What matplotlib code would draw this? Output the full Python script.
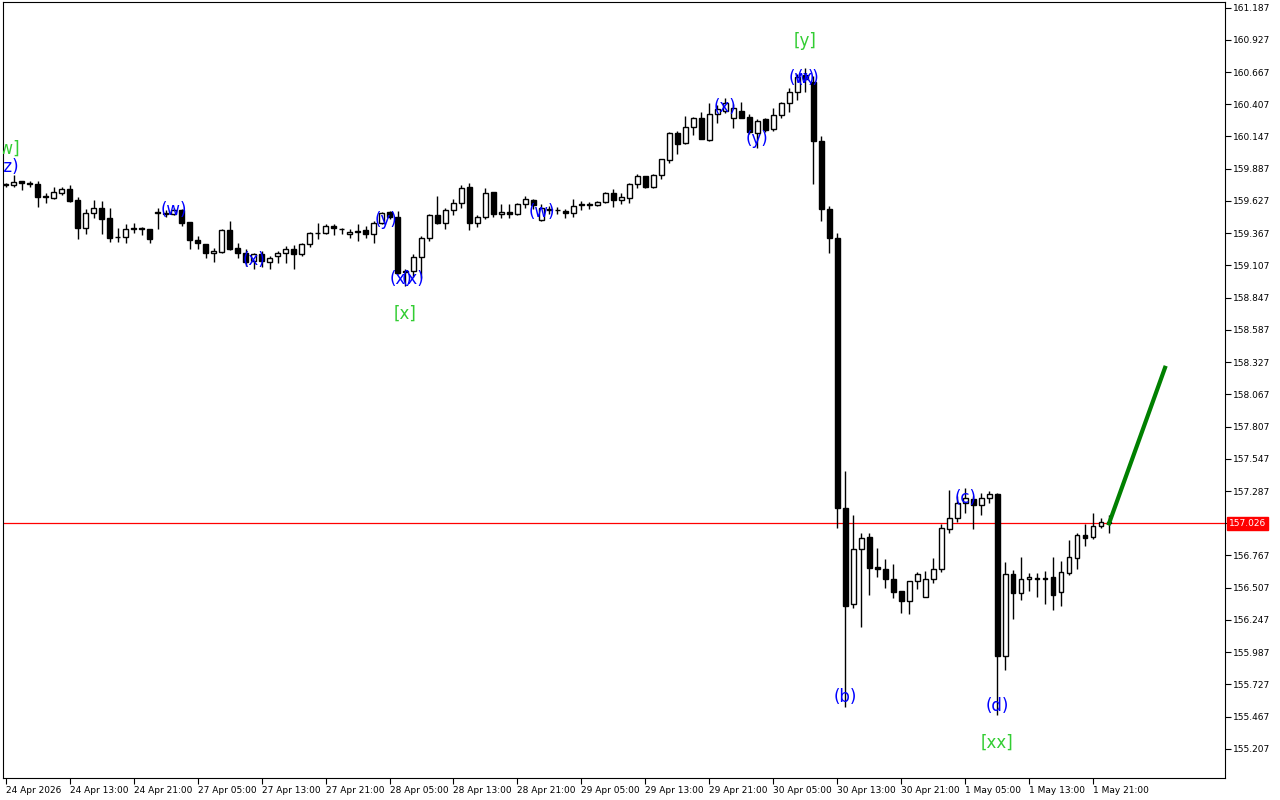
import matplotlib
matplotlib.use("Agg")
import matplotlib.pyplot as plt

# Hourly OHLC (bar 0 = 24 Apr 2026 05:00)
opens = [159.754, 159.754, 159.786, 159.770, 159.762, 159.665, 159.649, 159.689, 159.722, 159.633,
         159.408, 159.528, 159.569, 159.488, 159.335, 159.335, 159.408, 159.408, 159.400, 159.536,
         159.520, 159.520, 159.553, 159.456, 159.311, 159.279, 159.207, 159.215, 159.392, 159.247,
         159.207, 159.142, 159.198, 159.134, 159.182, 159.207, 159.239, 159.198, 159.279, 159.368,
         159.368, 159.424, 159.400, 159.359, 159.384, 159.392, 159.359, 159.448, 159.536, 159.496,
         159.062, 159.062, 159.174, 159.327, 159.512, 159.448, 159.553, 159.609, 159.738, 159.448,
         159.496, 159.698, 159.520, 159.536, 159.520, 159.601, 159.633, 159.472, 159.561, 159.553,
         159.545, 159.528, 159.593, 159.593, 159.593, 159.617, 159.689, 159.633, 159.649, 159.762,
         159.826, 159.738, 159.834, 159.955, 160.172, 160.092, 160.221, 160.293, 160.116, 160.325,
         160.350, 160.293, 160.350, 160.301, 160.172, 160.285, 160.205, 160.317, 160.414, 160.502,
         160.639, 160.583, 160.108, 159.561, 159.327, 157.154, 156.373, 156.816, 156.920, 156.671,
         156.655, 156.574, 156.477, 156.397, 156.558, 156.429, 156.574, 156.655, 156.977, 157.073,
         157.194, 157.226, 157.178, 157.234, 157.266, 155.954, 156.614, 156.461, 156.574, 156.582,
         156.582, 156.590, 156.469, 156.622, 156.743, 156.936, 156.920, 157.001, 157.041]
highs = [159.770, 159.834, 159.786, 159.786, 159.786, 159.689, 159.738, 159.738, 159.754, 159.657,
         159.561, 159.633, 159.625, 159.569, 159.408, 159.440, 159.448, 159.416, 159.400, 159.569,
         159.553, 159.569, 159.561, 159.456, 159.343, 159.279, 159.247, 159.400, 159.464, 159.287,
         159.239, 159.207, 159.223, 159.182, 159.223, 159.263, 159.271, 159.287, 159.376, 159.448,
         159.440, 159.440, 159.408, 159.400, 159.440, 159.424, 159.464, 159.536, 159.545, 159.545,
         159.078, 159.198, 159.343, 159.520, 159.665, 159.569, 159.641, 159.754, 159.770, 159.512,
         159.730, 159.698, 159.601, 159.601, 159.609, 159.665, 159.641, 159.601, 159.585, 159.577,
         159.561, 159.641, 159.625, 159.617, 159.625, 159.698, 159.722, 159.689, 159.770, 159.842,
         159.826, 159.842, 159.963, 160.180, 160.189, 160.309, 160.301, 160.341, 160.414, 160.398,
         160.454, 160.406, 160.422, 160.325, 160.285, 160.293, 160.374, 160.422, 160.535, 160.655,
         160.696, 160.631, 160.148, 159.585, 159.368, 157.452, 157.097, 156.952, 156.952, 156.824,
         156.735, 156.695, 156.477, 156.558, 156.630, 156.638, 156.743, 157.017, 157.299, 157.250,
         157.315, 157.250, 157.274, 157.290, 157.274, 156.711, 156.646, 156.751, 156.622, 156.622,
         156.638, 156.751, 156.719, 156.888, 156.952, 157.017, 157.113, 157.073, 157.097]
lows = [159.738, 159.738, 159.714, 159.738, 159.577, 159.609, 159.641, 159.673, 159.617, 159.319,
        159.359, 159.488, 159.359, 159.295, 159.295, 159.287, 159.368, 159.351, 159.287, 159.400,
        159.496, 159.512, 159.424, 159.239, 159.239, 159.166, 159.134, 159.207, 159.231, 159.166,
        159.102, 159.078, 159.094, 159.078, 159.126, 159.126, 159.078, 159.182, 159.255, 159.319,
        159.359, 159.351, 159.359, 159.327, 159.303, 159.327, 159.287, 159.440, 159.480, 159.037,
        158.941, 159.013, 159.005, 159.303, 159.440, 159.400, 159.512, 159.569, 159.392, 159.416,
        159.480, 159.496, 159.488, 159.488, 159.512, 159.569, 159.561, 159.464, 159.520, 159.520,
        159.488, 159.496, 159.553, 159.561, 159.585, 159.609, 159.577, 159.601, 159.609, 159.730,
        159.730, 159.730, 159.802, 159.931, 160.003, 160.084, 160.156, 160.124, 160.108, 160.253,
        160.333, 160.213, 160.293, 160.164, 160.052, 160.180, 160.189, 160.293, 160.341, 160.438,
        160.502, 159.762, 159.464, 159.207, 156.985, 155.544, 156.341, 156.188, 156.445, 156.590,
        156.501, 156.421, 156.300, 156.292, 156.493, 156.429, 156.542, 156.630, 156.952, 157.041,
        157.113, 156.977, 157.097, 157.194, 155.479, 155.842, 156.252, 156.405, 156.477, 156.429,
        156.373, 156.324, 156.357, 156.606, 156.655, 156.840, 156.896, 156.985, 156.952]
closes = [159.762, 159.778, 159.770, 159.762, 159.657, 159.657, 159.698, 159.722, 159.625, 159.408,
          159.528, 159.569, 159.480, 159.327, 159.335, 159.400, 159.400, 159.400, 159.319, 159.528,
          159.528, 159.553, 159.448, 159.311, 159.287, 159.207, 159.223, 159.392, 159.239, 159.207,
          159.134, 159.198, 159.142, 159.166, 159.207, 159.239, 159.198, 159.279, 159.368, 159.368,
          159.424, 159.408, 159.400, 159.376, 159.376, 159.359, 159.448, 159.528, 159.496, 159.045,
          159.053, 159.174, 159.327, 159.512, 159.448, 159.553, 159.609, 159.730, 159.448, 159.496,
          159.689, 159.520, 159.536, 159.520, 159.601, 159.641, 159.593, 159.569, 159.553, 159.553,
          159.528, 159.585, 159.601, 159.601, 159.617, 159.689, 159.633, 159.657, 159.762, 159.826,
          159.738, 159.834, 159.963, 160.172, 160.084, 160.221, 160.293, 160.124, 160.325, 160.366,
          160.414, 160.374, 160.293, 160.180, 160.269, 160.197, 160.317, 160.414, 160.502, 160.623,
          160.607, 160.108, 159.561, 159.327, 157.146, 156.357, 156.816, 156.912, 156.663, 156.655,
          156.574, 156.469, 156.397, 156.558, 156.614, 156.574, 156.655, 156.985, 157.073, 157.194,
          157.234, 157.178, 157.234, 157.266, 155.954, 156.614, 156.461, 156.574, 156.590, 156.574,
          156.574, 156.445, 156.630, 156.751, 156.936, 156.912, 157.001, 157.041, 157.026]

current_price = 157.026
forecast_bars = [138, 145]
forecast_prices = [157.026, 158.281]

time_labels = ["24 Apr 2026", "24 Apr 13:00", "24 Apr 21:00", "27 Apr 05:00", "27 Apr 13:00",
               "27 Apr 21:00", "28 Apr 05:00", "28 Apr 13:00", "28 Apr 21:00", "29 Apr 05:00",
               "29 Apr 13:00", "29 Apr 21:00", "30 Apr 05:00", "30 Apr 13:00", "30 Apr 21:00",
               "1 May 05:00", "1 May 13:00", "1 May 21:00"]
price_ticks = [161.187 - 0.26 * k for k in range(24)]

# wave labels: (text, bar, price, colour)
wave_labels = [
    ("[w]", 0.1, 160.052, "g"), ("(z)", 0.3, 159.899, "b"),
    ("(w)", 21, 159.553, "b"), ("(x)", 31, 159.150, "b"),
    ("(y)", 47.5, 159.472, "b"), ("(x)", 49.5, 158.999, "b"), ("(x)", 51, 158.999, "b"),
    ("[x]", 50, 158.715, "g"), ("(w)", 67, 159.536, "b"),
    ("(x)", 90, 160.382, "b"), ("(y)", 94, 160.124, "b"),
    ("(w)", 99.6, 160.615, "b"), ("(x)", 100.4, 160.615, "b"), ("[y]", 100, 160.921, "g"),
    ("(b)", 105, 155.624, "b"), ("(c)", 120, 157.234, "b"),
    ("(d)", 124, 155.552, "b"), ("[xx]", 124, 155.254, "g"),
]
colours = {"b": "#0000ff", "g": "#32cd32"}

fig = plt.figure(figsize=(12.8, 8), dpi=100)
ax = fig.add_axes([0.002, 0.0275, 0.955, 0.9705])

xs = list(range(len(opens)))
for i in xs:
    o, h, l, c = opens[i], highs[i], lows[i], closes[i]
    ax.vlines(i, l, h, color="black", linewidth=1, zorder=2)
    bottom = min(o, c)
    height = abs(c - o)
    face = "white" if c >= o else "black"
    ax.bar(i, height if height > 0 else 0.0001, bottom=bottom, width=0.6,
           facecolor=face, edgecolor="black", linewidth=1, zorder=3)

ax.axhline(current_price, color="red", linewidth=0.9, zorder=1)
ax.plot(forecast_bars, forecast_prices, color="green", linewidth=3, zorder=4)

for text, bx, py, col in wave_labels:
    ax.text(bx, py, text, color=colours[col], fontsize=12, ha="center", va="center",
            zorder=5, clip_on=True)

ax.set_xlim(-0.4, 152.5)
ax.set_ylim(154.972, 161.235)

ax.yaxis.tick_right()
ax.set_yticks(price_ticks)
ax.set_yticklabels([f"{p:.3f}" for p in price_ticks], fontsize=6.5)
ax.tick_params(axis="y", length=4, pad=2)

ax.set_xticks([8 * k for k in range(len(time_labels))])
ax.set_xticklabels(time_labels, fontsize=6.5, ha="left")
ax.tick_params(axis="x", length=4, pad=2)

ax.text(1.003, current_price, f"{current_price:.3f}", transform=ax.get_yaxis_transform(),
        fontsize=6.5, color="white", va="center", ha="left",
        bbox=dict(facecolor="red", edgecolor="red", pad=1.5), zorder=6)

for s in ax.spines.values():
    s.set_color("black")
    s.set_linewidth(0.8)

fig.savefig("out.png", dpi=100)
